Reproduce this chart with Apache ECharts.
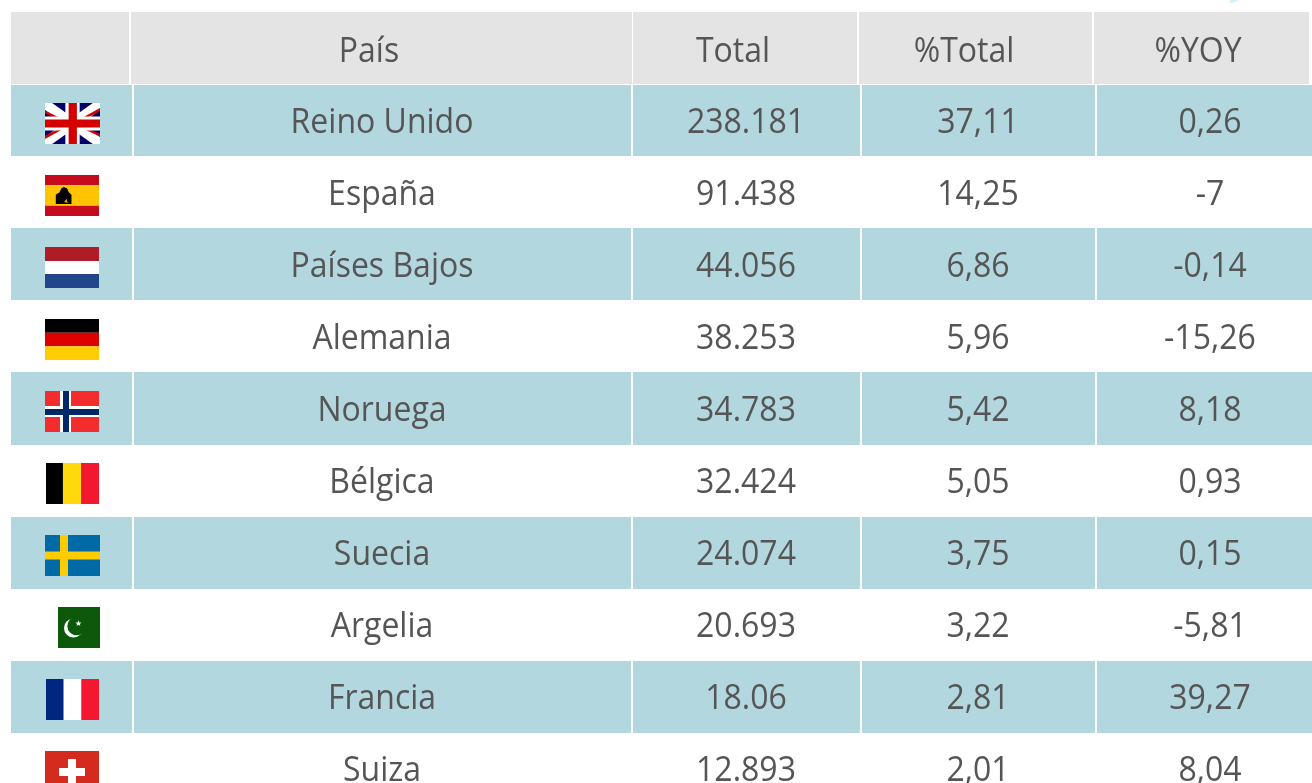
<!DOCTYPE html>
<html>
<head>
<meta charset="utf-8" />
<script src="https://cdn.jsdelivr.net/npm/echarts@6/dist/echarts.min.js"></script>
<style>
  html, body { margin: 0; padding: 0; background: #fff; }
  #main { width: 1312px; height: 783px; }
</style>
</head>
<body>
<div id="main"></div>
<script>
var headers = ["", "País", "Total", "%Total", "%YOY"];
var paises = ["Reino Unido", "España", "Países Bajos", "Alemania", "Noruega", "Bélgica", "Suecia", "Argelia", "Francia", "Suiza"];
var banderas = ["uk", "es", "nl", "de", "no", "be", "se", "pk", "fr", "ch"];
var totales = ["238.181", "91.438", "44.056", "38.253", "34.783", "32.424", "24.074", "20.693", "18.06", "12.893"];
var pctTotal = ["37,11", "14,25", "6,86", "5,96", "5,42", "5,05", "3,75", "3,22", "2,81", "2,01"];
var pctYoy = ["0,26", "-7", "-0,14", "-15,26", "8,18", "0,93", "0,15", "-5,81", "39,27", "8,04"];

var rowNames = ["cabecera"].concat(paises);

// bordes de columna (px)
var headEdges = [[11, 129], [131, 632], [633, 857], [859, 1092], [1094, 1309]];
var bodyEdges = [[11, 132], [134, 631], [633, 860], [862, 1095], [1097, 1312]];
var headCenters = [70, 369, 733, 964, 1198];
var bodyCenters = [72, 382, 746, 978, 1210];

var rowPitch = 72.05;
var firstRow = 84.75;
var pageHeight = 783;
var gridTop = firstRow - rowPitch;
var FONT = '"Open Sans", sans-serif';
var FONT_SIZE = 32;
var TEXT_COLOR = "#555555";

function rect(x, y, w, h, color) {
  return { type: "rect", shape: { x: x, y: y, width: w, height: h }, style: { fill: color } };
}
function poly(x, y, w, h, pts, color) {
  return {
    type: "polygon",
    shape: { points: pts.map(function (p) { return [x + p[0] * w, y + p[1] * h]; }) },
    style: { fill: color },
  };
}
function circle(cx, cy, r, color) {
  return { type: "circle", shape: { cx: cx, cy: cy, r: r }, style: { fill: color } };
}
function hStripes(x, y, w, h, stops, colors) {
  return colors.map(function (c, i) {
    return rect(x, y + stops[i] * h, w, (stops[i + 1] - stops[i]) * h, c);
  });
}
function vStripes(x, y, w, h, stops, colors) {
  return colors.map(function (c, i) {
    return rect(x + stops[i] * w, y, (stops[i + 1] - stops[i]) * w, h, c);
  });
}
function star(cx, cy, r) {
  var pts = [];
  for (var i = 0; i < 10; i++) {
    var a = -Math.PI / 2 + (i * Math.PI) / 5;
    var rr = i % 2 ? r * 0.42 : r;
    pts.push([cx + rr * Math.cos(a), cy + rr * Math.sin(a)]);
  }
  return { type: "polygon", shape: { points: pts }, style: { fill: "#fff" } };
}

// banderas dibujadas dentro de la celda, y = parte alta de la fila
function flag(code, y) {
  var t = y + 18;
  switch (code) {
    case "uk": {
      var x = 45, w = 55, h = 41;
      var red = "#d40000", navy = "#00006a";
      return [
        rect(x, t, w, h, navy),
        poly(x, t, w, h, [[0, 0], [0.13, 0], [1, 0.83], [1, 1], [0.87, 1], [0, 0.17]], "#fff"),
        poly(x, t, w, h, [[1, 0], [1, 0.17], [0.13, 1], [0, 1], [0, 0.83], [0.87, 0]], "#fff"),
        poly(x, t, w, h, [[0, 0.18], [0.36, 0.42], [0.27, 0.42], [0, 0.25]], red),
        poly(x, t, w, h, [[1, 0.12], [1, 0.2], [0.71, 0.4], [0.62, 0.4]], red),
        poly(x, t, w, h, [[0, 0.8], [0, 0.88], [0.38, 0.6], [0.29, 0.6]], red),
        poly(x, t, w, h, [[1, 0.75], [1, 0.82], [0.64, 0.6], [0.73, 0.6]], red),
        rect(x + 0.37 * w, t, 0.26 * w, h, "#fff"),
        rect(x, t + 0.33 * h, w, 0.34 * h, "#fff"),
        rect(x + 0.43 * w, t, 0.15 * w, h, red),
        rect(x, t + 0.4 * h, w, 0.2 * h, red),
      ];
    }
    case "es": {
      var ex = 45, ew = 54, eh = 41;
      return hStripes(ex, t, ew, eh, [0, 0.25, 0.75, 1], ["#c60b1e", "#ffc400", "#c60b1e"]).concat([
        poly(ex, t, ew, eh, [[0.2, 0.71], [0.2, 0.48], [0.27, 0.42], [0.3, 0.33], [0.35, 0.29], [0.41, 0.33], [0.44, 0.42], [0.49, 0.48], [0.49, 0.71]], "#000"),
        poly(ex, t, ew, eh, [[0.35, 0.66], [0.4, 0.58], [0.42, 0.68]], "#c9a200"),
      ]);
    }
    case "nl":
      return hStripes(45, t, 54, 41, [0, 0.34, 0.66, 1], ["#ae1c28", "#fff", "#21468b"]);
    case "de":
      return hStripes(45, t, 54, 41, [0, 1 / 3, 2 / 3, 1], ["#000", "#dd0000", "#ffce00"]);
    case "no":
      return [
        rect(45, t, 54, 41, "#f32d2e"),
        rect(60, t, 11, 41, "#fff"),
        rect(45, t + 15, 54, 11, "#fff"),
        rect(63, t, 6, 41, "#002868"),
        rect(45, t + 18, 54, 6, "#002868"),
      ];
    case "be":
      return vStripes(46, t, 53, 41, [0, 0.32, 0.66, 1], ["#000", "#ffd90c", "#f31830"]);
    case "se":
      return [
        rect(45, t, 55, 41, "#006aa7"),
        rect(60, t, 8, 41, "#fecc00"),
        rect(45, t + 16.5, 55, 8, "#fecc00"),
      ];
    case "pk":
      return [
        rect(58, t, 42, 41, "#0c590b"),
        circle(73.5, t + 21, 9.5, "#fff"),
        circle(76.5, t + 19, 9.2, "#0c590b"),
        star(78.5, t + 16.5, 3.2),
      ];
    case "fr":
      return vStripes(46, t, 53, 41, [0, 1 / 3, 2 / 3, 1], ["#00267f", "#fff", "#f31830"]);
    case "ch":
      return [
        rect(45, t, 54, 41, "#d52b1e"),
        rect(68, t + 8, 8, 26, "#fff"),
        rect(59, t + 17, 26, 8, "#fff"),
      ];
  }
  return [];
}

function cellText(text, x, y) {
  return {
    type: "text",
    x: x,
    y: y,
    scaleY: 1.07,
    style: {
      text: text,
      fill: TEXT_COLOR,
      font: FONT_SIZE + "px " + FONT,
      textAlign: "center",
      textVerticalAlign: "middle",
    },
  };
}

function renderRow(params, api) {
  var i = api.value(0);
  var c = api.coord([0, i]);
  var band = api.size([0, 1])[1];
  var edgeTop = c[1] - band / 2;
  var top = Math.floor(edgeTop);
  var bottom = Math.floor(c[1] + band / 2);
  var kids = [];
  var edges, centers, values, fill;

  if (i === 0) {
    edges = headEdges;
    centers = headCenters;
    values = headers;
    fill = "#e4e4e4";
    top = 12;
    bottom = 84;
  } else {
    edges = bodyEdges;
    centers = bodyCenters;
    values = ["", paises[i - 1], totales[i - 1], pctTotal[i - 1], pctYoy[i - 1]];
    fill = i % 2 === 1 ? "#b3d7df" : null;
    top = Math.max(top, 85);
  }
  if (fill) {
    edges.forEach(function (e) {
      var x0 = api.coord([e[0], i])[0];
      var x1 = api.coord([e[1], i])[0];
      kids.push(rect(x0, top, x1 - x0, bottom - top, fill));
    });
  }
  if (i > 0) {
    kids = kids.concat(flag(banderas[i - 1], Math.round(edgeTop)));
  }
  var mid = i === 0 ? c[1] + 3.5 : c[1] + 2.5;
  values.forEach(function (v, k) {
    if (v) kids.push(cellText(v, api.coord([centers[k], i])[0], mid));
  });
  return { type: "group", children: kids };
}

var chart = echarts.init(document.getElementById("main"));
chart.setOption({
  animation: false,
  backgroundColor: "#fff",
  grid: {
    left: 0,
    top: gridTop,
    width: 1312,
    height: pageHeight - gridTop,
  },
  xAxis: { type: "value", min: 0, max: 1312, show: false },
  // la ultima fila se corta en el borde de la pagina, por eso max no es entero
  yAxis: {
    type: "value",
    inverse: true,
    show: false,
    min: -0.5,
    max: (pageHeight - gridTop) / rowPitch - 0.5,
  },
  graphic: [
    {
      type: "polygon",
      shape: { points: [[1230, 0], [1240, 0], [1232, 3], [1230, 3]] },
      style: { fill: "#d6f1f6" },
    },
  ],
  series: [
    {
      type: "custom",
      clip: false,
      data: rowNames.map(function (n, i) { return [i]; }),
      encode: { y: 0 },
      renderItem: renderRow,
    },
  ],
});
</script>
</body>
</html>
